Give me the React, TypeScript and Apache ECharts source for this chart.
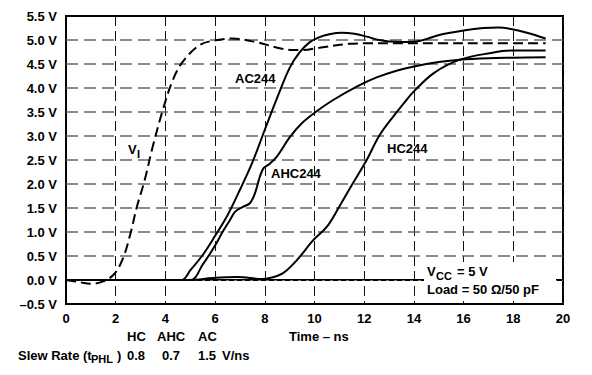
import React, { useEffect, useRef } from "react";
import * as echarts from "echarts";

// time (ns) / voltage (V) pairs
const VI_DATA: [number, number][] = [
  [0, 0], [0.5, -0.04], [1.0, -0.08], [1.5, -0.03], [1.95, 0.13], [2.3, 0.46],
  [2.6, 0.98], [2.85, 1.52], [3.15, 2.05], [3.5, 2.8], [3.9, 3.55], [4.3, 4.17],
  [4.7, 4.55], [5.4, 4.9], [6.1, 5.0], [6.7, 5.03], [7.7, 4.95], [8.5, 4.84],
  [9.1, 4.79], [9.5, 4.79], [10.2, 4.84], [11.4, 4.92], [12.1, 4.93], [15, 4.93],
  [17, 4.93], [19.3, 4.93],
];
const AC_DATA: [number, number][] = [
  [0, 0], [4.65, 0], [5.0, 0.2], [5.5, 0.52], [6.0, 0.92], [6.5, 1.35], [7.0, 1.88],
  [7.5, 2.45], [8.0, 3.13], [8.5, 3.8], [9.0, 4.42], [9.4, 4.74], [9.8, 4.95],
  [10.2, 5.06], [10.6, 5.12], [11.1, 5.15], [11.6, 5.13], [12.1, 5.07], [12.6, 5.0],
  [13.0, 4.97], [13.5, 4.96], [14.1, 4.97], [15.05, 5.11], [16.0, 5.2], [16.8, 5.25],
  [17.4, 5.26], [17.9, 5.23], [18.55, 5.15], [19.3, 5.03],
];
const AHC_DATA: [number, number][] = [
  [0, 0], [5.0, 0], [5.5, 0.32], [6.0, 0.72], [6.3, 1.0], [6.6, 1.25], [6.8, 1.42],
  [7.1, 1.52], [7.4, 1.6], [7.6, 1.8], [7.8, 2.15], [7.95, 2.33], [8.2, 2.42],
  [8.5, 2.58], [9.0, 2.97], [9.5, 3.27], [10.1, 3.52], [10.75, 3.75], [11.7, 4.03],
  [12.5, 4.22], [13.3, 4.36], [14.0, 4.45], [15.0, 4.54], [15.85, 4.59], [17, 4.62],
  [18, 4.63], [19.3, 4.64],
];
const HC_DATA: [number, number][] = [
  [0, 0], [5.0, 0], [5.9, 0.04], [6.9, 0.06], [7.9, 0.02], [8.2, 0.04], [8.75, 0.15],
  [9.3, 0.42], [9.95, 0.83], [10.5, 1.11], [11.0, 1.53], [11.55, 2.02], [12.1, 2.5],
  [12.6, 3.0], [13.16, 3.4], [13.7, 3.75], [14.0, 3.93], [14.8, 4.31], [15.85, 4.59],
  [17.1, 4.73], [17.9, 4.78], [19.3, 4.78],
];
const GRID_Y = [0.5, 1.0, 1.5, 2.0, 2.5, 3.0, 3.5, 4.0, 4.5, 5.0];
const ZERO_Y = [0];

const FONT = "'Liberation Sans', Arial, Helvetica, sans-serif";

export default function App() {
  const ref = useRef<HTMLDivElement>(null);
  useEffect(() => {
    if (!ref.current) return;
    const chart = echarts.init(ref.current, null, { renderer: "svg" });
    const txt = (x: number, y: number, text: string, size = 13, align = "left") => ({
      type: "text",
      x,
      y,
      z: 20,
      style: {
        text,
        fill: "#000",
        font: `bold ${size}px ${FONT}`,
        textAlign: align,
        textVerticalAlign: "middle",
      },
    });
    const lineSeries = (name: string, data: [number, number][], dashed = false) => ({
      name,
      type: "line",
      data,
      smooth: 0.35,
      showSymbol: false,
      symbol: "none",
      z: 5,
      lineStyle: { color: "#000", width: 2, type: dashed ? [10, 5] : "solid" },
    });
    chart.setOption({
      animation: false,
      backgroundColor: "#fff",
      grid: {
        left: 66,
        right: 29,
        top: 16,
        bottom: 71,
        show: true,
        borderColor: "#000",
        borderWidth: 2,
      },
      xAxis: {
        type: "value",
        min: 0,
        max: 20,
        interval: 2,
        axisLine: { show: true, lineStyle: { color: "#000", width: 2 } },
        axisTick: { show: false },
        axisLabel: {
          color: "#000",
          fontWeight: "bold",
          fontSize: 13,
          fontFamily: FONT,
          margin: 8,
        },
        splitLine: {
          show: true,
          lineStyle: { color: "#111", width: 1, type: [10, 5] },
        },
      },
      yAxis: {
        type: "value",
        min: -0.5,
        max: 5.5,
        interval: 0.5,
        axisLine: { show: true, lineStyle: { color: "#000", width: 2 } },
        axisTick: { show: false },
        axisLabel: {
          color: "#000",
          fontWeight: "bold",
          fontSize: 13,
          fontFamily: FONT,
          margin: 9,
          formatter: (v: number) =>
            (v < 0 ? "\u2013" + Math.abs(v).toFixed(1) : v.toFixed(1)) + " V",
        },
        splitLine: { show: false },
      },
      series: [
        {
          name: "grid",
          type: "line",
          data: [],
          z: 1,
          markLine: {
            silent: true,
            symbol: "none",
            label: { show: false },
            animation: false,
            data: [
              ...GRID_Y.map((y) => ({
                yAxis: y,
                lineStyle: { color: "#666", width: 1.5, type: [12, 6] },
              })),
              ...ZERO_Y.map((y) => ({
                yAxis: y,
                lineStyle: { color: "#777", width: 1.2, type: [3, 5] },
              })),
            ],
          },
        },
        lineSeries("VI", VI_DATA, true),
        lineSeries("AC244", AC_DATA),
        lineSeries("AHC244", AHC_DATA),
        lineSeries("HC244", HC_DATA),
      ],
      graphic: [
        {
          type: "rect",
          z: 10,
          shape: { x: 424, y: 262, width: 132, height: 36 },
          style: { fill: "#fff" },
        },
        txt(128, 149, "V"),
        txt(137, 154, "I", 11),
        txt(235, 78, "AC244"),
        txt(271, 173, "AHC244"),
        txt(387, 148, "HC244"),
        txt(427, 271, "V"),
        txt(436, 276, "CC", 11),
        txt(457, 271, "= 5 V"),
        txt(427, 289, "Load = 50 \u03A9/50 pF"),
        txt(289, 336, "Time \u2013 ns"),
        txt(127, 336, "HC"),
        txt(157, 336, "AHC"),
        txt(198, 336, "AC"),
        txt(18, 355, "Slew Rate (t"),
        txt(91, 359, "PHL", 11),
        txt(117, 355, ")"),
        txt(127, 355, "0.8"),
        txt(162, 355, "0.7"),
        txt(198, 355, "1.5"),
        txt(222, 355, "V/ns"),
      ],
    });
    return () => chart.dispose();
  }, []);
  return (
    <div
      ref={ref}
      style={{ position: "absolute", left: 0, top: 0, width: 592, height: 375 }}
    />
  );
}
